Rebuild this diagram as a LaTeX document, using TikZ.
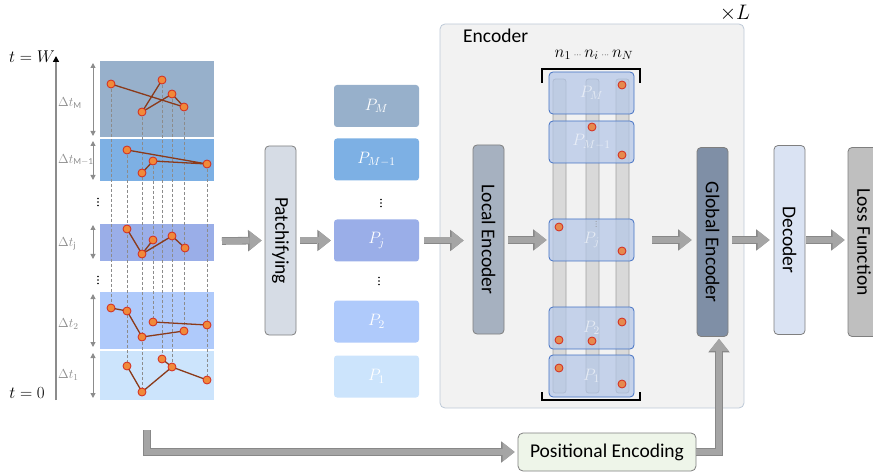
\RequirePackage{fix-cm}
\documentclass[tikz,border=0pt]{standalone}
\usepackage{fontspec}
\setmainfont{Carlito}
\usepackage{graphicx}
\usetikzlibrary{arrows.meta,calc}
\definecolor{cM}{HTML}{97B0CB}
\definecolor{cMa}{HTML}{7DB0E4}
\definecolor{cJ}{HTML}{9AAEE8}
\definecolor{cTwo}{HTML}{AFCAFB}
\definecolor{cOne}{HTML}{CCE4FC}
\definecolor{boxline}{HTML}{7F7F7F}
\definecolor{patchc}{HTML}{D6DCE5}
\definecolor{localc}{HTML}{A6B1C0}
\definecolor{globalc}{HTML}{7F8FA6}
\definecolor{decc}{HTML}{DAE3F3}
\definecolor{lossc}{HTML}{BFBFBF}
\definecolor{posc}{HTML}{EEF5E9}
\definecolor{encbg}{HTML}{F2F2F2}
\definecolor{encline}{HTML}{BDC9D7}
\definecolor{arrfill}{HTML}{A5A5A5}
\definecolor{arrline}{HTML}{888888}
\definecolor{dotfill}{HTML}{F08A3A}
\definecolor{dotline}{HTML}{D42A1E}
\definecolor{edotfill}{HTML}{E58A4E}
\definecolor{tsline}{HTML}{8B3A1A}
\definecolor{epfill}{HTML}{B4C7E7}
\definecolor{epline}{HTML}{4472C4}
\definecolor{barfill}{HTML}{D9D9D9}
\definecolor{barline}{HTML}{A0A0A0}
\definecolor{dgray}{HTML}{8C8C8C}
\begin{document}
\begin{tikzpicture}[x=1pt,y=-1pt,
 vbox/.style={draw=boxline, line width=0.8pt, rounded corners=4pt, inner sep=0pt,
   minimum width=31pt, minimum height=189pt, font=\fontsize{19.5}{22}\selectfont},
 pbox/.style={rounded corners=3pt, minimum width=85pt, minimum height=42pt, inner sep=0pt,
   text=white, font=\fontsize{16.5}{19}\selectfont},
 epbox/.style={draw=epline, fill=epfill, fill opacity=0.72, text opacity=0.6, text=white,
   rounded corners=4pt, line width=0.8pt, minimum width=85pt, minimum height=42pt,
   inner sep=0pt, font=\fontsize{16.5}{19}\selectfont},
 bar/.style={draw=barline, fill=barfill, line width=0.8pt, rounded corners=2.5pt,
   minimum width=13pt, minimum height=314pt, inner sep=0pt},
 blk/.style={line width=6pt, draw=arrfill, line join=miter,
   -{Triangle[length=12pt,width=19pt,line width=0pt]},
   preaction={draw=arrline, line width=7.6pt, line join=miter,
   -{Triangle[length=13.5pt,width=21.5pt,line width=0pt]}}},
 darr/.style={draw=dgray, line width=1pt,
   {Triangle[length=5pt,width=5pt]}-{Triangle[length=5pt,width=5pt]}},
 dlab/.style={anchor=west, text=dgray, inner sep=1pt, font=\fontsize{13}{15}\selectfont},
 dsh/.style={draw=dgray, dash pattern=on 3pt off 2pt, line width=0.7pt},
 tsl/.style={draw=tsline, line width=1.3pt, line join=round},
 dot/.style={draw=dotline, fill=dotfill, line width=0.8pt},
 edot/.style={draw=dotline, fill=edotfill, line width=0.8pt},
 vdot/.style={fill=black}
]
\useasboundingbox (0,0) rectangle (873,473);

% ---------- time axis ----------
\draw[draw=dgray, line width=2pt, -{Triangle[length=6pt,width=6pt,color=black]}] (56,400) -- (56,56);
\node[anchor=east, inner sep=1pt, font=\fontsize{17}{20}\selectfont] (tW) at (56,57) {$t=W$};
\node[anchor=east, inner sep=1pt, font=\fontsize{17}{20}\selectfont] (t0) at (46,393) {$t=0$};

% ---------- bands ----------
\fill[cM] (100,61) rectangle (214,137);
\fill[cMa] (100,139) rectangle (214,181);
\fill[cJ] (100,224) rectangle (214,261);
\fill[cTwo] (100,292) rectangle (214,349);
\fill[cOne] (100,351) rectangle (214,400);
\coordinate (ts) at (214,241);

% delta arrows and labels
\draw[darr] (93,63) -- (93,136);
\draw[darr] (93,141) -- (93,180);
\draw[darr] (93,225) -- (93,259);
\draw[darr] (93,294) -- (93,347);
\draw[darr] (93,353) -- (93,398);
\node[dlab] at (57,103) {$\Delta t_{\mathrm{M}}$};
\node[dlab] at (57,160) {$\Delta t_{\mathrm{M-1}}$};
\node[dlab] at (57,244) {$\Delta t_{\mathrm{j}}$};
\node[dlab] at (57,324) {$\Delta t_{2}$};
\node[dlab] at (57,375) {$\Delta t_{1}$};
\foreach \x/\y in {98/202, 98/280, 381/203, 379/281}
  \foreach \d in {-3.5,0,3.5}
    \fill[vdot] (\x,\y+\d) circle (0.9pt);

% dashed verticals
\draw[dsh] (111,84) -- (111,308);
\draw[dsh] (127,150) -- (127,366);
\draw[dsh] (142,112) -- (142,392);
\draw[dsh] (153,161) -- (153,322);
\draw[dsh] (162,80) -- (162,359);
\draw[dsh] (172,94) -- (172,367);
\draw[dsh] (184,107) -- (184,331);
\draw[dsh] (207,164) -- (207,380);

% series
\draw[tsl] (111,84) -- (184,107) -- (172,94) -- (142,112) -- (162,80);
\draw[tsl] (142,173) -- (153,161) -- (207,164) -- (127,150);
\draw[tsl] (127,229) -- (142,254) -- (172,236) -- (185,248);
\draw[tsl] (142,254) -- (153,240);
\draw[tsl] (111,308) -- (127,311) -- (142,337) -- (184,331);
\draw[tsl] (153,322) -- (207,325);
\draw[tsl] (127,366) -- (142,392) -- (172,367) -- (207,380);
\draw[tsl] (162,359) -- (172,367);
\foreach \p in {(111,84),(162,80),(172,94),(184,107),(142,112),
  (127,150),(153,161),(207,164),(142,173),
  (127,229),(142,254),(153,240),(172,236),(185,248),
  (111,308),(127,311),(142,337),(184,331),(153,322),(207,325),
  (127,366),(142,392),(162,359),(172,367),(207,380)}
  \filldraw[dot] \p circle (4pt);

% ---------- patchifying ----------
\node[vbox, fill=patchc] (patch) at (280.5,240.5) {\rotatebox{-90}{Patchifying}};

% ---------- patches ----------
\node[pbox, fill=cM] (pM) at (376.5,106) {$P_M$};
\node[pbox, fill=cMa] (pMa) at (376.5,159.5) {$P_{M-1}$};
\node[pbox, fill=cJ] (pJ) at (376.5,240.5) {$P_j$};
\node[pbox, fill=cTwo] (p2) at (376.5,321.5) {$P_2$};
\node[pbox, fill=cOne] (p1) at (376.5,376.5) {$P_1$};

% ---------- encoder ----------
\node[draw=encline, fill=encbg, rounded corners=5pt, line width=0.8pt,
  minimum width=304pt, minimum height=384pt, inner sep=0pt] (enc) at (592,216) {};
\node[anchor=west, inner sep=1pt, font=\fontsize{19.5}{22}\selectfont] (enclab) at (462,36) {Encoder};
\node[inner sep=1pt, font=\fontsize{21}{24}\selectfont] (xL) at (735,13) {$\times L$};
\node[vbox, fill=localc] (local) at (488.5,239.5) {\rotatebox{-90}{Local Encoder}};

\node[bar] (b1) at (559.5,236) {};
\node[bar] (b2) at (592.5,236) {};
\node[bar] (b3) at (622.5,236) {};

\node[epbox] (eM) at (591.5,93) {$P_M$};
\node[epbox] (eMa) at (591.5,142) {$P_{M-1}$};
\node[epbox] (eJ) at (591.5,240) {$P_j$};
\node[epbox] (e2) at (591.5,328) {$P_2$};
\node[epbox] (e1) at (591.5,376) {$P_1$};
\foreach \d in {-2.5,0,2.5}
  \fill[dgray] (596,224+\d) circle (0.5pt);

\foreach \p in {(622,85),(592,127),(622,155),(559,227),(622,251),
  (622,322),(559,340),(592,341),(559,368),(622,384)}
  \filldraw[edot] \p circle (4pt);

\draw[line width=2pt] (542,83) -- (542,69) -- (640,69) -- (640,83);
\draw[line width=2pt] (542,392) -- (542,400) -- (640,400) -- (640,392);
\node[inner sep=1pt, font=\fontsize{17}{20}\selectfont] (nlab) at (594,55)
  {$n_1\,{\scriptscriptstyle\cdots}\,n_i\,{\scriptscriptstyle\cdots}\,n_N$};

\node[vbox, fill=globalc] (global) at (712.5,242) {\rotatebox{-90}{Global Encoder}};

% ---------- decoder / loss ----------
\node[vbox, fill=decc] (dec) at (789.5,240) {\rotatebox{-90}{Decoder}};
\node[vbox, fill=lossc, minimum width=32pt] (loss) at (864,242) {\rotatebox{-90}{Loss Function}};

% ---------- positional encoding ----------
\node[draw=boxline, fill=posc, line width=0.8pt, rounded corners=5pt,
  minimum width=178pt, minimum height=38pt, inner sep=0pt,
  font=\fontsize{19.5}{22}\selectfont] (pos) at (607,452) {Positional Encoding};
\coordinate (pstart) at (147,430);

% ---------- block arrows ----------
\draw[blk] ([xshift=8pt]ts) -- ([xshift=-3pt]patch.west);
\draw[blk] ([xshift=4pt]patch.east) -- ([xshift=-3pt]pJ.west |- patch.east);
\draw[blk] ([xshift=5pt]pJ.east) -- ([xshift=-9pt]local.west |- pJ.east);
\draw[blk] ([xshift=4pt]local.east |- eJ.west) -- ([xshift=-2pt]eJ.west);
\draw[blk] ([xshift=18pt]eJ.east) -- ([xshift=-5pt]global.west |- eJ.east);
\draw[blk] ([xshift=4pt]global.east |- dec.west) -- ([xshift=-4pt]dec.west);
\draw[blk] ([xshift=1pt]dec.east) -- ([xshift=-3pt]loss.west |- dec.east);
\draw[blk] (pstart) |- ([xshift=-3pt]pos.west);
\draw[blk] (pos.east) -| ([xshift=6.5pt,yshift=-2pt]global.south);
\end{tikzpicture}
\end{document}
